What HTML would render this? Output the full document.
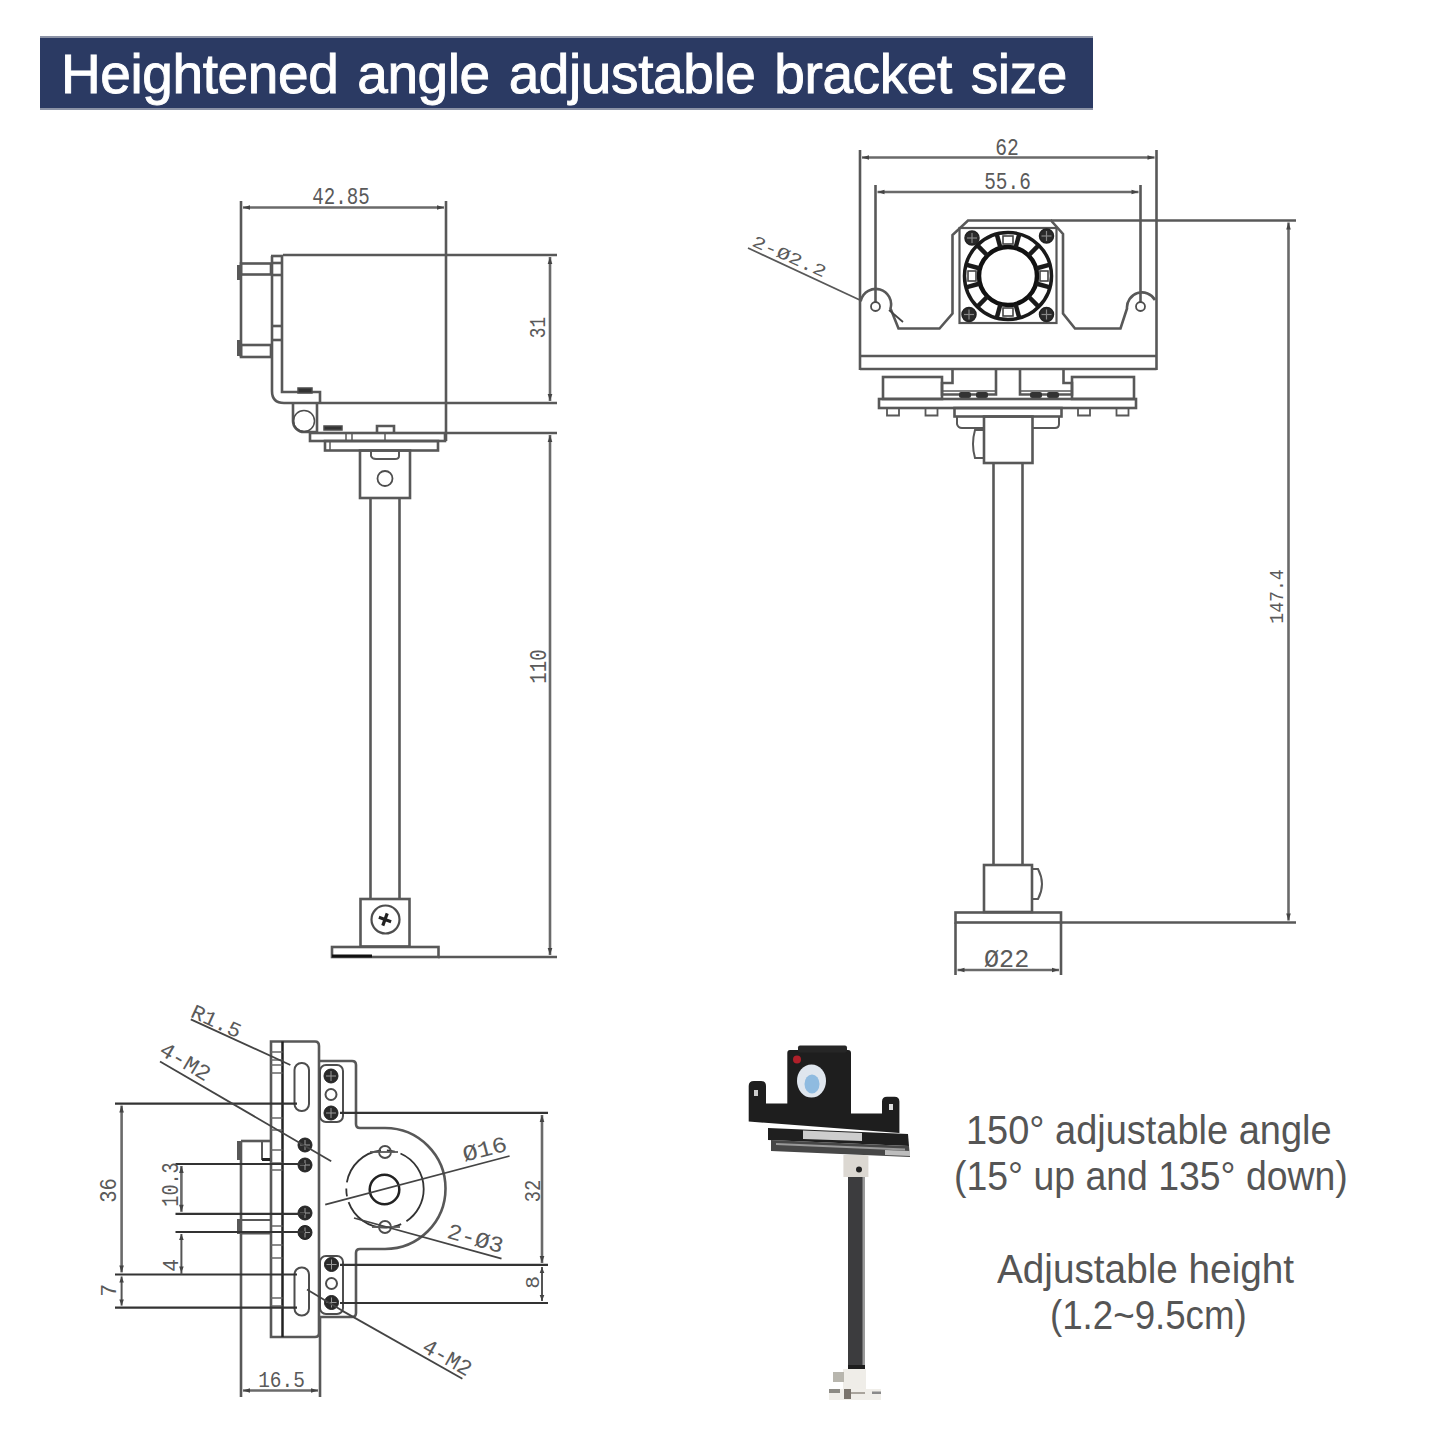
<!DOCTYPE html>
<html><head><meta charset="utf-8">
<style>
html,body{margin:0;padding:0;background:#fff;width:1445px;height:1445px;overflow:hidden;position:relative;font-family:"Liberation Sans",sans-serif;}
#banner{position:absolute;left:40px;top:36px;width:1053px;height:70px;background:#2b3a63;border-top:2.5px solid #8c93a6;border-bottom:2.5px solid #8c93a6;}
#title{position:absolute;left:61px;top:41px;color:#fff;font-size:55px;white-space:nowrap;line-height:66px;-webkit-text-stroke:0.9px #fff;letter-spacing:-0.4px;word-spacing:4px;}
.note{position:absolute;color:#555555;font-size:40px;white-space:nowrap;line-height:46px;transform-origin:0 0;}
svg{position:absolute;left:0;top:0;font-family:"Liberation Sans",sans-serif;}
</style></head>
<body>
<div id="banner"></div>
<div id="title">Heightened angle adjustable bracket size</div>
<svg width="1445" height="1445" viewBox="0 0 1445 1445">
<line x1="241" y1="201" x2="241" y2="357" stroke="#585858" stroke-width="2.6"/>
<line x1="446" y1="201" x2="446" y2="441" stroke="#585858" stroke-width="2.6"/>
<line x1="243" y1="207.5" x2="444" y2="207.5" stroke="#6a6a6a" stroke-width="2.6"/>
<polygon points="243,207.5 250.0,205.2 250.0,209.8" fill="#444"/>
<polygon points="444,207.5 437.0,209.8 437.0,205.2" fill="#444"/>
<text x="312.3" y="204" font-family="Liberation Mono" font-size="23.9" fill="#5a5a5a" textLength="57.5" lengthAdjust="spacingAndGlyphs">42.85</text>
<line x1="283" y1="255" x2="557" y2="255" stroke="#585858" stroke-width="2.6"/>
<line x1="320" y1="403" x2="557" y2="403" stroke="#585858" stroke-width="2.6"/>
<line x1="446" y1="433" x2="557" y2="433" stroke="#585858" stroke-width="2.6"/>
<line x1="438" y1="957" x2="557" y2="957" stroke="#585858" stroke-width="2.6"/>
<line x1="550" y1="257" x2="550" y2="401" stroke="#6a6a6a" stroke-width="2.6"/>
<polygon points="550,257 552.3,264.0 547.7,264.0" fill="#444"/>
<polygon points="550,401 547.7,394.0 552.3,394.0" fill="#444"/>
<line x1="550" y1="435" x2="550" y2="955" stroke="#6a6a6a" stroke-width="2.6"/>
<polygon points="550,435 552.3,442.0 547.7,442.0" fill="#444"/>
<polygon points="550,955 547.7,948.0 552.3,948.0" fill="#444"/>
<text x="-10.2" y="7.5" font-family="Liberation Mono" font-size="22.4" fill="#5a5a5a" textLength="21.3" lengthAdjust="spacingAndGlyphs" transform="translate(537,328) rotate(-90)">31</text>
<text x="-16.7" y="8.0" font-family="Liberation Mono" font-size="23.9" fill="#5a5a5a" textLength="34.5" lengthAdjust="spacingAndGlyphs" transform="translate(538,667) rotate(-90)">110</text>
<rect x="241" y="263.5" width="30" height="11" rx="0" stroke="#585858" stroke-width="2.6" fill="none"/>
<rect x="241" y="345" width="30" height="12" rx="0" stroke="#585858" stroke-width="2.6" fill="none"/>
<line x1="238.5" y1="265" x2="238.5" y2="280" stroke="#585858" stroke-width="3"/>
<line x1="238.5" y1="340" x2="238.5" y2="356" stroke="#585858" stroke-width="3"/>
<path d="M272,256 L272,391 Q272,403 284,403 L320,403" stroke="#585858" stroke-width="2.6" fill="none" />
<path d="M282,256 L282,392 L320,392 L320,403" stroke="#585858" stroke-width="2.6" fill="none" />
<line x1="271" y1="256" x2="283" y2="256" stroke="#585858" stroke-width="2.6"/>
<line x1="272" y1="263" x2="282" y2="263" stroke="#585858" stroke-width="2.6"/>
<line x1="272" y1="275" x2="282" y2="275" stroke="#585858" stroke-width="2.6"/>
<line x1="272" y1="326" x2="282" y2="326" stroke="#585858" stroke-width="2.6"/>
<line x1="272" y1="340" x2="282" y2="340" stroke="#585858" stroke-width="2.6"/>
<rect x="298" y="388" width="14" height="5" rx="0" stroke="#4d4d4d" stroke-width="1.5" fill="#333"/>
<path d="M293,403 L293,421 A11,11 0 0 0 304,432 L317,432 L317,403" stroke="#585858" stroke-width="2.6" fill="none" />
<circle cx="304" cy="421" r="10.5" stroke="#4d4d4d" stroke-width="1.5" fill="none" />
<rect x="310" y="433" width="135" height="8" rx="0" stroke="#585858" stroke-width="2.6" fill="none"/>
<rect x="325" y="441" width="113" height="9.5" rx="0" stroke="#585858" stroke-width="2.6" fill="none"/>
<rect x="324" y="426" width="18" height="4" rx="0" stroke="#4d4d4d" stroke-width="1.5" fill="#333"/>
<path d="M377,433 L377,426 L394,426 L394,433" stroke="#585858" stroke-width="2.6" fill="none" />
<line x1="385" y1="433" x2="385" y2="441" stroke="#585858" stroke-width="1.5"/>
<line x1="346" y1="433" x2="346" y2="441" stroke="#585858" stroke-width="1.5"/>
<line x1="352" y1="433" x2="352" y2="441" stroke="#585858" stroke-width="1.5"/>
<line x1="330" y1="441" x2="330" y2="450" stroke="#585858" stroke-width="1.5"/>
<rect x="360" y="450.5" width="50" height="47.5" rx="0" stroke="#585858" stroke-width="2.6" fill="none"/>
<path d="M371,451 L371,456 Q372,459 376,459 L395,459 Q399,459 399,456 L399,451" stroke="#585858" stroke-width="2" fill="none" />
<circle cx="385" cy="478.5" r="7.5" stroke="#4d4d4d" stroke-width="1.8" fill="none" />
<line x1="370.5" y1="498" x2="370.5" y2="899" stroke="#585858" stroke-width="2.6"/>
<line x1="399.5" y1="498" x2="399.5" y2="899" stroke="#585858" stroke-width="2.6"/>
<rect x="360.5" y="899" width="49" height="47.5" rx="0" stroke="#585858" stroke-width="2.6" fill="none"/>
<circle cx="385.5" cy="919.5" r="14" stroke="#4d4d4d" stroke-width="2.2" fill="none" />
<path d="M385,913 L385,926 M378.5,919.5 L391.5,919.5" stroke="#222" stroke-width="3.2" fill="none" transform="rotate(20 385 919.5)"/>
<rect x="332" y="947" width="106.5" height="10" rx="0" stroke="#585858" stroke-width="2.6" fill="none"/>
<line x1="332" y1="956" x2="372" y2="956" stroke="#111" stroke-width="3"/>
<line x1="860" y1="150" x2="860" y2="370" stroke="#585858" stroke-width="2.6"/>
<line x1="1156.5" y1="150" x2="1156.5" y2="370" stroke="#585858" stroke-width="2.6"/>
<line x1="862" y1="157.5" x2="1154.5" y2="157.5" stroke="#6a6a6a" stroke-width="2.6"/>
<polygon points="862,157.5 869.0,155.2 869.0,159.8" fill="#444"/>
<polygon points="1154.5,157.5 1147.5,159.8 1147.5,155.2" fill="#444"/>
<text x="995.2" y="155" font-family="Liberation Mono" font-size="23.9" fill="#5a5a5a" textLength="23.6" lengthAdjust="spacingAndGlyphs">62</text>
<line x1="875.5" y1="185" x2="875.5" y2="303" stroke="#585858" stroke-width="2.6"/>
<line x1="1140.5" y1="185" x2="1140.5" y2="303" stroke="#585858" stroke-width="2.6"/>
<line x1="877.5" y1="192" x2="1138.5" y2="192" stroke="#6a6a6a" stroke-width="2.6"/>
<polygon points="877.5,192 884.5,189.7 884.5,194.3" fill="#444"/>
<polygon points="1138.5,192 1131.5,194.3 1131.5,189.7" fill="#444"/>
<text x="984.2" y="188.5" font-family="Liberation Mono" font-size="24.6" fill="#5a5a5a" textLength="46.6" lengthAdjust="spacingAndGlyphs">55.6</text>
<line x1="860" y1="356" x2="1156.5" y2="356" stroke="#585858" stroke-width="2.6"/>
<line x1="860" y1="369" x2="1156.5" y2="369" stroke="#585858" stroke-width="2.6"/>
<path d="M861,300 A15,15 0 0 1 890.5,308.5 L898.5,328.5 L939.5,328.5 L952.5,313.5 L952.5,235 L968,220.5 L1051,220.5 L1063,234 L1063,313.5 L1075,328.5 L1120.5,328.5 L1127,308.5 A15,15 0 0 1 1155,300" stroke="#585858" stroke-width="2.6" fill="none" />
<circle cx="875.5" cy="306.5" r="4.5" stroke="#4d4d4d" stroke-width="1.8" fill="none" />
<line x1="889" y1="310" x2="903" y2="322" stroke="#444" stroke-width="1.8"/>
<circle cx="1140.5" cy="306.5" r="4.5" stroke="#4d4d4d" stroke-width="1.8" fill="none" />
<line x1="748" y1="248" x2="862" y2="301" stroke="#585858" stroke-width="1.8"/>
<text x="-38.9" y="5.8" font-family="Liberation Mono" font-size="17.2" fill="#5a5a5a" textLength="78.9" lengthAdjust="spacingAndGlyphs" transform="translate(789,256) rotate(24)">2-Ø2.2</text>
<rect x="959.5" y="228" width="97" height="95" rx="0" stroke="#555" stroke-width="2.2" fill="none"/>
<circle cx="1008" cy="276" r="43.5" stroke="#1a1a1a" stroke-width="3.5" fill="none" />
<circle cx="1008" cy="276" r="29" stroke="#111" stroke-width="4.5" fill="none" />
<line x1="1036.0" y1="283.5" x2="1050.0" y2="287.3" stroke="#1a1a1a" stroke-width="4.5"/>
<line x1="1028.5" y1="296.5" x2="1038.8" y2="306.8" stroke="#1a1a1a" stroke-width="4.5"/>
<line x1="1015.5" y1="304.0" x2="1019.3" y2="318.0" stroke="#1a1a1a" stroke-width="4.5"/>
<line x1="1000.5" y1="304.0" x2="996.7" y2="318.0" stroke="#1a1a1a" stroke-width="4.5"/>
<line x1="987.5" y1="296.5" x2="977.2" y2="306.8" stroke="#1a1a1a" stroke-width="4.5"/>
<line x1="980.0" y1="283.5" x2="966.0" y2="287.3" stroke="#1a1a1a" stroke-width="4.5"/>
<line x1="980.0" y1="268.5" x2="966.0" y2="264.7" stroke="#1a1a1a" stroke-width="4.5"/>
<line x1="987.5" y1="255.5" x2="977.2" y2="245.2" stroke="#1a1a1a" stroke-width="4.5"/>
<line x1="1000.5" y1="248.0" x2="996.7" y2="234.0" stroke="#1a1a1a" stroke-width="4.5"/>
<line x1="1015.5" y1="248.0" x2="1019.3" y2="234.0" stroke="#1a1a1a" stroke-width="4.5"/>
<line x1="1028.5" y1="255.5" x2="1038.8" y2="245.2" stroke="#1a1a1a" stroke-width="4.5"/>
<line x1="1036.0" y1="268.5" x2="1050.0" y2="264.7" stroke="#1a1a1a" stroke-width="4.5"/>
<rect x="1040.0" y="271.0" width="8" height="10" fill="none" stroke="#444" stroke-width="1.6"/>
<rect x="1003.0" y="308.0" width="10" height="8" fill="none" stroke="#444" stroke-width="1.6"/>
<rect x="968.0" y="271.0" width="8" height="10" fill="none" stroke="#444" stroke-width="1.6"/>
<rect x="1003.0" y="236.0" width="10" height="8" fill="none" stroke="#444" stroke-width="1.6"/>
<circle cx="972" cy="238" r="7" stroke="#222" stroke-width="1.5" fill="#2a2a2a" />
<line x1="967" y1="238" x2="977" y2="238" stroke="#888" stroke-width="1.2"/>
<line x1="972" y1="233" x2="972" y2="243" stroke="#888" stroke-width="1.2"/>
<circle cx="1046.5" cy="236" r="7" stroke="#222" stroke-width="1.5" fill="#2a2a2a" />
<line x1="1041.5" y1="236" x2="1051.5" y2="236" stroke="#888" stroke-width="1.2"/>
<line x1="1046.5" y1="231" x2="1046.5" y2="241" stroke="#888" stroke-width="1.2"/>
<circle cx="969" cy="314.5" r="7" stroke="#222" stroke-width="1.5" fill="#2a2a2a" />
<line x1="964" y1="314.5" x2="974" y2="314.5" stroke="#888" stroke-width="1.2"/>
<line x1="969" y1="309.5" x2="969" y2="319.5" stroke="#888" stroke-width="1.2"/>
<circle cx="1046.5" cy="314.5" r="7" stroke="#222" stroke-width="1.5" fill="#2a2a2a" />
<line x1="1041.5" y1="314.5" x2="1051.5" y2="314.5" stroke="#888" stroke-width="1.2"/>
<line x1="1046.5" y1="309.5" x2="1046.5" y2="319.5" stroke="#888" stroke-width="1.2"/>
<line x1="1051" y1="220.5" x2="1296" y2="220.5" stroke="#585858" stroke-width="2.6"/>
<line x1="1288.5" y1="222.5" x2="1288.5" y2="920.5" stroke="#6a6a6a" stroke-width="2.6"/>
<polygon points="1288.5,222.5 1290.8,229.5 1286.2,229.5" fill="#444"/>
<polygon points="1288.5,920.5 1286.2,913.5 1290.8,913.5" fill="#444"/>
<text x="-26.7" y="7.0" font-family="Liberation Mono" font-size="20.9" fill="#5a5a5a" textLength="54.4" lengthAdjust="spacingAndGlyphs" transform="translate(1276,597) rotate(-90)">147.4</text>
<line x1="1061" y1="922.5" x2="1296" y2="922.5" stroke="#585858" stroke-width="2.6"/>
<rect x="883" y="377" width="59" height="22" rx="0" stroke="#585858" stroke-width="2.6" fill="none"/>
<rect x="1072" y="377" width="62" height="22" rx="0" stroke="#585858" stroke-width="2.6" fill="none"/>
<path d="M952.5,369 L952.5,383 L942,383 L942,394.5 L996,394.5 L996,369" stroke="#585858" stroke-width="2.6" fill="none" />
<path d="M1020,369 L1020,394.5 L1072,394.5 L1072,383 L1063.5,383 L1063.5,369" stroke="#585858" stroke-width="2.6" fill="none" />
<line x1="942" y1="391" x2="996" y2="391" stroke="#585858" stroke-width="1.5"/>
<line x1="1020" y1="391" x2="1072" y2="391" stroke="#585858" stroke-width="1.5"/>
<rect x="959" y="392" width="12" height="6" rx="2" fill="#333"/>
<rect x="976" y="392" width="12" height="6" rx="2" fill="#333"/>
<rect x="1030" y="392" width="12" height="6" rx="2" fill="#333"/>
<rect x="1047" y="392" width="12" height="6" rx="2" fill="#333"/>
<rect x="879" y="399" width="257" height="9" rx="0" stroke="#585858" stroke-width="2.6" fill="none"/>
<path d="M887,408 L887,415.5 L899,415.5 L899,408" stroke="#585858" stroke-width="1.8" fill="none" />
<path d="M925.5,408 L925.5,415.5 L937.5,415.5 L937.5,408" stroke="#585858" stroke-width="1.8" fill="none" />
<path d="M1078,408 L1078,415.5 L1090,415.5 L1090,408" stroke="#585858" stroke-width="1.8" fill="none" />
<path d="M1116.5,408 L1116.5,415.5 L1128.5,415.5 L1128.5,408" stroke="#585858" stroke-width="1.8" fill="none" />
<rect x="954.5" y="408" width="107" height="8.5" rx="0" stroke="#585858" stroke-width="2.6" fill="none"/>
<path d="M957,416.5 L957,424 Q958,428 962,428 L984,428" stroke="#585858" stroke-width="2" fill="none" />
<path d="M1033,428 L1055,428 Q1059,428 1059,424 L1059,416.5" stroke="#585858" stroke-width="2" fill="none" />
<rect x="984" y="416.5" width="48.5" height="46.5" rx="0" stroke="#585858" stroke-width="2.6" fill="none"/>
<path d="M984,430 L975,430 Q971,444 975,458 L984,458" stroke="#585858" stroke-width="2" fill="none" />
<line x1="993.5" y1="463" x2="993.5" y2="865" stroke="#585858" stroke-width="2.6"/>
<line x1="1022.5" y1="463" x2="1022.5" y2="865" stroke="#585858" stroke-width="2.6"/>
<rect x="984" y="865" width="48" height="47" rx="0" stroke="#585858" stroke-width="2.6" fill="none"/>
<path d="M1032,869 L1038,869 Q1046,884 1038,899 L1032,899" stroke="#585858" stroke-width="2" fill="none" />
<rect x="955.5" y="912.5" width="105.5" height="10" rx="0" stroke="#585858" stroke-width="2.6" fill="none"/>
<line x1="955.5" y1="922.5" x2="955.5" y2="975" stroke="#585858" stroke-width="2.6"/>
<line x1="1061" y1="922.5" x2="1061" y2="975" stroke="#585858" stroke-width="2.6"/>
<line x1="957.5" y1="970" x2="1059" y2="970" stroke="#6a6a6a" stroke-width="2.6"/>
<polygon points="957.5,970 964.5,967.7 964.5,972.3" fill="#444"/>
<polygon points="1059,970 1052.0,972.3 1052.0,967.7" fill="#444"/>
<text x="984.0" y="967" font-family="Liberation Mono" font-size="25.4" fill="#5a5a5a" textLength="45.3" lengthAdjust="spacingAndGlyphs">Ø22</text>
<path d="M271,1041.5 L315,1041.5 Q319,1041.5 319,1046 L319,1333 Q319,1337 315,1337 L271,1337 Z" stroke="#585858" stroke-width="2.6" fill="none" />
<line x1="282.5" y1="1041.5" x2="282.5" y2="1337" stroke="#222" stroke-width="2.5"/>
<line x1="271" y1="1052" x2="282.5" y2="1052" stroke="#666" stroke-width="1.5"/>
<line x1="271" y1="1060" x2="282.5" y2="1060" stroke="#666" stroke-width="1.5"/>
<line x1="271" y1="1065" x2="282.5" y2="1065" stroke="#666" stroke-width="1.5"/>
<line x1="271" y1="1073" x2="282.5" y2="1073" stroke="#666" stroke-width="1.5"/>
<line x1="271" y1="1118" x2="282.5" y2="1118" stroke="#666" stroke-width="1.5"/>
<line x1="271" y1="1130" x2="282.5" y2="1130" stroke="#666" stroke-width="1.5"/>
<line x1="271" y1="1150" x2="282.5" y2="1150" stroke="#666" stroke-width="1.5"/>
<line x1="271" y1="1163" x2="282.5" y2="1163" stroke="#666" stroke-width="1.5"/>
<line x1="271" y1="1170" x2="282.5" y2="1170" stroke="#666" stroke-width="1.5"/>
<line x1="271" y1="1226" x2="282.5" y2="1226" stroke="#666" stroke-width="1.5"/>
<line x1="271" y1="1232" x2="282.5" y2="1232" stroke="#666" stroke-width="1.5"/>
<line x1="271" y1="1245" x2="282.5" y2="1245" stroke="#666" stroke-width="1.5"/>
<line x1="271" y1="1258" x2="282.5" y2="1258" stroke="#666" stroke-width="1.5"/>
<line x1="271" y1="1298" x2="282.5" y2="1298" stroke="#666" stroke-width="1.5"/>
<line x1="271" y1="1306" x2="282.5" y2="1306" stroke="#666" stroke-width="1.5"/>
<rect x="294.5" y="1063" width="14.5" height="48" rx="7" stroke="#4d4d4d" stroke-width="2" fill="none"/>
<rect x="294.5" y="1267.5" width="14.5" height="48" rx="7" stroke="#4d4d4d" stroke-width="2" fill="none"/>
<path d="M319,1061 L352,1061 Q356,1061 356,1065 L356,1124 Q356,1128 360,1128 L385,1128 A60.5,60.5 0 0 1 385,1249 L360,1249 Q356,1249 356,1253 L356,1313 Q356,1317 352,1317 L319,1317" stroke="#585858" stroke-width="2.6" fill="none" />
<rect x="320" y="1065" width="23" height="57" rx="6" stroke="#4d4d4d" stroke-width="2" fill="none"/>
<rect x="320" y="1256" width="23" height="58" rx="6" stroke="#4d4d4d" stroke-width="2" fill="none"/>
<circle cx="331" cy="1076" r="7" stroke="#222" stroke-width="1" fill="#2a2a2a" />
<line x1="326" y1="1076" x2="336" y2="1076" stroke="#999" stroke-width="1"/>
<line x1="331" y1="1071" x2="331" y2="1081" stroke="#999" stroke-width="1"/>
<circle cx="331" cy="1113" r="7" stroke="#222" stroke-width="1" fill="#2a2a2a" />
<line x1="326" y1="1113" x2="336" y2="1113" stroke="#999" stroke-width="1"/>
<line x1="331" y1="1108" x2="331" y2="1118" stroke="#999" stroke-width="1"/>
<circle cx="331.5" cy="1264.5" r="7" stroke="#222" stroke-width="1" fill="#2a2a2a" />
<line x1="326.5" y1="1264.5" x2="336.5" y2="1264.5" stroke="#999" stroke-width="1"/>
<line x1="331.5" y1="1259.5" x2="331.5" y2="1269.5" stroke="#999" stroke-width="1"/>
<circle cx="331.5" cy="1302.5" r="7" stroke="#222" stroke-width="1" fill="#2a2a2a" />
<line x1="326.5" y1="1302.5" x2="336.5" y2="1302.5" stroke="#999" stroke-width="1"/>
<line x1="331.5" y1="1297.5" x2="331.5" y2="1307.5" stroke="#999" stroke-width="1"/>
<circle cx="305" cy="1145" r="7" stroke="#222" stroke-width="1" fill="#2a2a2a" />
<line x1="300" y1="1145" x2="310" y2="1145" stroke="#999" stroke-width="1"/>
<line x1="305" y1="1140" x2="305" y2="1150" stroke="#999" stroke-width="1"/>
<circle cx="305" cy="1165" r="7" stroke="#222" stroke-width="1" fill="#2a2a2a" />
<line x1="300" y1="1165" x2="310" y2="1165" stroke="#999" stroke-width="1"/>
<line x1="305" y1="1160" x2="305" y2="1170" stroke="#999" stroke-width="1"/>
<circle cx="305" cy="1213" r="7" stroke="#222" stroke-width="1" fill="#2a2a2a" />
<line x1="300" y1="1213" x2="310" y2="1213" stroke="#999" stroke-width="1"/>
<line x1="305" y1="1208" x2="305" y2="1218" stroke="#999" stroke-width="1"/>
<circle cx="305" cy="1232.5" r="7" stroke="#222" stroke-width="1" fill="#2a2a2a" />
<line x1="300" y1="1232.5" x2="310" y2="1232.5" stroke="#999" stroke-width="1"/>
<line x1="305" y1="1227.5" x2="305" y2="1237.5" stroke="#999" stroke-width="1"/>
<circle cx="331" cy="1094.5" r="5.5" stroke="#4d4d4d" stroke-width="2" fill="none" />
<circle cx="331.5" cy="1283.5" r="5.5" stroke="#4d4d4d" stroke-width="2" fill="none" />
<circle cx="384.5" cy="1189.5" r="14.8" stroke="#222" stroke-width="2.5" fill="none" />
<circle cx="385" cy="1189" r="38.7" stroke="#333" stroke-width="1.8" fill="none" stroke-dasharray="50,6,8,6" stroke-dashoffset="12"/>
<circle cx="385" cy="1152" r="6" stroke="#4d4d4d" stroke-width="1.8" fill="none" />
<circle cx="385" cy="1227" r="6" stroke="#4d4d4d" stroke-width="1.8" fill="none" />
<line x1="370" y1="1152" x2="398" y2="1152" stroke="#585858" stroke-width="1.8"/>
<line x1="372" y1="1227" x2="400" y2="1227" stroke="#585858" stroke-width="1.8"/>
<path d="M241,1141 L271,1141" stroke="#585858" stroke-width="2.6" fill="none" />
<line x1="238.5" y1="1141" x2="238.5" y2="1160" stroke="#585858" stroke-width="3"/>
<path d="M262,1142 L262,1159 L271,1159" stroke="#585858" stroke-width="2" fill="none" />
<line x1="262" y1="1159.5" x2="270" y2="1159.5" stroke="#222" stroke-width="3"/>
<rect x="241" y="1220" width="30" height="13.5" rx="0" stroke="#585858" stroke-width="2" fill="none"/>
<line x1="238.5" y1="1219" x2="238.5" y2="1234" stroke="#585858" stroke-width="3"/>
<line x1="241" y1="1141" x2="241" y2="1397" stroke="#585858" stroke-width="2.6"/>
<line x1="320" y1="1317" x2="320" y2="1397" stroke="#585858" stroke-width="2.6"/>
<line x1="243" y1="1390.5" x2="318" y2="1390.5" stroke="#6a6a6a" stroke-width="2.6"/>
<polygon points="243,1390.5 250.0,1388.2 250.0,1392.8" fill="#444"/>
<polygon points="318,1390.5 311.0,1392.8 311.0,1388.2" fill="#444"/>
<text x="258.2" y="1387" font-family="Liberation Mono" font-size="22.4" fill="#5a5a5a" textLength="46.6" lengthAdjust="spacingAndGlyphs">16.5</text>
<line x1="115" y1="1103.6" x2="297" y2="1103.6" stroke="#333" stroke-width="2.2"/>
<line x1="115" y1="1274.5" x2="297" y2="1274.5" stroke="#333" stroke-width="2.2"/>
<line x1="115" y1="1307.6" x2="297" y2="1307.6" stroke="#333" stroke-width="2.2"/>
<line x1="121.6" y1="1105.6" x2="121.6" y2="1272.4" stroke="#6a6a6a" stroke-width="2.6"/>
<polygon points="121.6,1105.6 123.9,1112.6 119.3,1112.6" fill="#444"/>
<polygon points="121.6,1272.4 119.3,1265.4 123.9,1265.4" fill="#444"/>
<line x1="121.6" y1="1276.5" x2="121.6" y2="1305.6" stroke="#555" stroke-width="2"/>
<polygon points="121.6,1276.5 123.9,1282.5 119.3,1282.5" fill="#444"/>
<polygon points="121.6,1305.6 119.3,1299.6 123.9,1299.6" fill="#444"/>
<text x="-11.8" y="8.0" font-family="Liberation Mono" font-size="23.9" fill="#5a5a5a" textLength="24.7" lengthAdjust="spacingAndGlyphs" transform="translate(108,1191) rotate(-90)">36</text>
<text x="-5.8" y="7.5" font-family="Liberation Mono" font-size="22.4" fill="#5a5a5a" textLength="12.8" lengthAdjust="spacingAndGlyphs" transform="translate(108,1291) rotate(-90)">7</text>
<line x1="175.5" y1="1164" x2="305" y2="1164" stroke="#333" stroke-width="2.2"/>
<line x1="175.5" y1="1213.8" x2="305" y2="1213.8" stroke="#333" stroke-width="2.2"/>
<line x1="175.5" y1="1232" x2="305" y2="1232" stroke="#333" stroke-width="2.2"/>
<line x1="181.4" y1="1166" x2="181.4" y2="1211.8" stroke="#6a6a6a" stroke-width="2.6"/>
<polygon points="181.4,1166 183.7,1173.0 179.1,1173.0" fill="#444"/>
<polygon points="181.4,1211.8 179.1,1204.8 183.7,1204.8" fill="#444"/>
<line x1="181.4" y1="1234" x2="181.4" y2="1274.4" stroke="#555" stroke-width="2"/>
<polygon points="181.4,1234 183.7,1240.0 179.1,1240.0" fill="#444"/>
<polygon points="181.4,1272.4 179.1,1266.4 183.7,1266.4" fill="#444"/>
<text x="-21.7" y="8.0" font-family="Liberation Mono" font-size="23.9" fill="#5a5a5a" textLength="44.4" lengthAdjust="spacingAndGlyphs" transform="translate(170,1185) rotate(-90)">10.3</text>
<text x="-5.8" y="7.5" font-family="Liberation Mono" font-size="22.4" fill="#5a5a5a" textLength="12.8" lengthAdjust="spacingAndGlyphs" transform="translate(170,1266) rotate(-90)">4</text>
<line x1="340" y1="1112.9" x2="548" y2="1112.9" stroke="#333" stroke-width="2.2"/>
<line x1="340" y1="1264.9" x2="548" y2="1264.9" stroke="#333" stroke-width="2.2"/>
<line x1="340" y1="1303" x2="548" y2="1303" stroke="#333" stroke-width="2.2"/>
<line x1="542" y1="1115" x2="542" y2="1263" stroke="#6a6a6a" stroke-width="2.6"/>
<polygon points="542,1115 544.3,1122.0 539.7,1122.0" fill="#444"/>
<polygon points="542,1263 539.7,1256.0 544.3,1256.0" fill="#444"/>
<line x1="542" y1="1267" x2="542" y2="1301" stroke="#555" stroke-width="2"/>
<polygon points="542,1267 544.3,1273.0 539.7,1273.0" fill="#444"/>
<polygon points="542,1301 539.7,1295.0 544.3,1295.0" fill="#444"/>
<text x="-10.7" y="7.5" font-family="Liberation Mono" font-size="22.4" fill="#5a5a5a" textLength="22.5" lengthAdjust="spacingAndGlyphs" transform="translate(532,1191.5) rotate(-90)">32</text>
<text x="-5.8" y="7.0" font-family="Liberation Mono" font-size="20.9" fill="#5a5a5a" textLength="12.8" lengthAdjust="spacingAndGlyphs" transform="translate(532,1283) rotate(-90)">8</text>
<line x1="190.8" y1="1019.4" x2="290.4" y2="1065" stroke="#444" stroke-width="1.8"/>
<text x="-25.9" y="7.0" font-family="Liberation Mono" font-size="20.9" fill="#5a5a5a" textLength="52.9" lengthAdjust="spacingAndGlyphs" transform="translate(216,1021) rotate(24.6)">R1.5</text>
<line x1="160" y1="1061.5" x2="331.2" y2="1161.2" stroke="#444" stroke-width="1.8"/>
<text x="-26.9" y="7.5" font-family="Liberation Mono" font-size="22.4" fill="#5a5a5a" textLength="55.0" lengthAdjust="spacingAndGlyphs" transform="translate(185,1061) rotate(30.8)">4-M2</text>
<line x1="325.2" y1="1204.6" x2="509.6" y2="1156" stroke="#444" stroke-width="1.8"/>
<text x="-22.0" y="7.5" font-family="Liberation Mono" font-size="22.4" fill="#5a5a5a" textLength="45.3" lengthAdjust="spacingAndGlyphs" transform="translate(484,1149) rotate(-14.8)">Ø16</text>
<line x1="354" y1="1218" x2="501.5" y2="1258.6" stroke="#444" stroke-width="1.8"/>
<text x="-27.9" y="7.5" font-family="Liberation Mono" font-size="22.4" fill="#5a5a5a" textLength="57.1" lengthAdjust="spacingAndGlyphs" transform="translate(475,1238) rotate(16)">2-Ø3</text>
<line x1="307" y1="1289.5" x2="342" y2="1310.6" stroke="#444" stroke-width="1.8"/>
<line x1="342" y1="1310.6" x2="462.4" y2="1378.8" stroke="#444" stroke-width="1.8"/>
<text x="-25.9" y="7.5" font-family="Liberation Mono" font-size="22.4" fill="#5a5a5a" textLength="52.9" lengthAdjust="spacingAndGlyphs" transform="translate(447,1357) rotate(29.5)">4-M2</text>
<path d="M748.7,1121.6 L748.7,1086 Q748.7,1081 754,1081 L761,1081 Q766,1081 766,1086 L766,1103.5 L787.3,1103.5 L787.3,1053 Q787.3,1050 790,1050 L848,1050 Q851,1050 851,1053 L851,1113.5 L882,1113.5 L882,1101.5 Q882,1096.7 887,1096.7 L894.5,1096.7 Q899.4,1096.7 899.4,1101.5 L899.4,1133 Z" fill="#1e1e1e"/>
<rect x="798" y="1045.5" width="49" height="7" rx="2" fill="#262626"/>
<ellipse cx="811.5" cy="1081" rx="14.5" ry="16.5" fill="#dfe6ee"/>
<ellipse cx="812" cy="1084" rx="7.5" ry="9.5" fill="#8fbbe0"/>
<circle cx="797" cy="1059.5" r="4" fill="#b0202a"/>
<rect x="754" y="1090" width="4" height="6" fill="#ccc"/>
<rect x="889" y="1104" width="4" height="6" fill="#ddd"/>
<polygon points="768,1128 908,1134 909,1146 768,1140" fill="#1f1f1f"/>
<polygon points="803,1130.5 862,1133 862,1141 803,1139" fill="#cdcdcd"/>
<polygon points="771,1140 909,1146 910,1157 771,1151" fill="#474747"/>
<polygon points="776,1143 905,1148.5 905,1150.5 776,1145" fill="#9a9a9a"/>
<polygon points="885,1150 910,1151 910,1156 885,1155" fill="#bdbdbd"/>
<rect x="843.4" y="1155" width="25" height="22" fill="#dcd8d2"/>
<circle cx="859" cy="1169.5" r="3" fill="#222"/>
<rect x="848" y="1177" width="17" height="192" fill="#3c3c3e"/>
<rect x="862.5" y="1177" width="2.5" height="192" fill="#9a9a9a"/>
<rect x="848" y="1365" width="17" height="4" fill="#1e1e1e"/>
<rect x="843" y="1369" width="23" height="31" fill="#efede8"/>
<rect x="829" y="1389" width="52" height="11" fill="#f0eee9"/>
<rect x="833" y="1372" width="11" height="10" fill="#b8b6ae"/>
<rect x="844" y="1389" width="7" height="10" fill="#7a746c"/>
<rect x="829" y="1389" width="11" height="4" fill="#8d8b85"/>
<rect x="872" y="1391.5" width="9" height="2.5" fill="#8a8a8a"/>
<rect x="851" y="1392" width="14" height="2" fill="#a9a49c"/>
</svg>
<div class="note" id="n1" style="left:966px;top:1107px;transform:scaleX(0.949);">150° adjustable angle</div>
<div class="note" id="n2" style="left:954px;top:1153px;transform:scaleX(0.935);">(15° up and 135° down)</div>
<div class="note" id="n3" style="left:997px;top:1246px;transform:scaleX(0.968);">Adjustable height</div>
<div class="note" id="n4" style="left:1050px;top:1292px;transform:scaleX(0.917);">(1.2~9.5cm)</div>
</body></html>
